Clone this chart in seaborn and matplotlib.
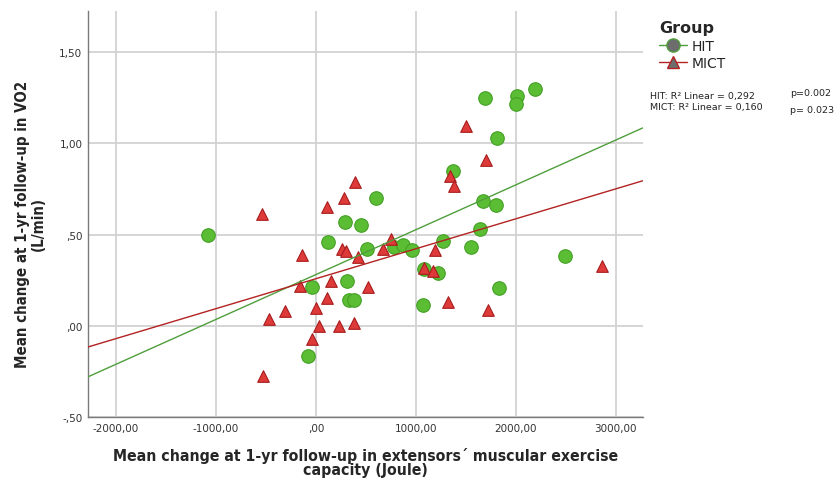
import numpy as np
import pandas as pd
import matplotlib
matplotlib.use("Agg")
import matplotlib.pyplot as plt
from matplotlib.lines import Line2D
import seaborn as sns

# Change in extensors' muscular exercise capacity (Joule) vs change in VO2 (L/min)
hit_x = [-1080, -80, -40, 120, 290, 450, 600, 310, 330, 380, 510, 780, 870, 960,
         1080, 1220, 1070, 1270, 1370, 1550, 1640, 1670, 1800, 1810, 1830, 1690,
         2010, 2000, 2190, 2490]
hit_y = [0.50, -0.165, 0.214, 0.46, 0.57, 0.555, 0.70, 0.247, 0.143, 0.143, 0.423,
         0.434, 0.445, 0.418, 0.313, 0.29, 0.115, 0.467, 0.846, 0.434, 0.533, 0.687,
         0.66, 1.027, 0.209, 1.25, 1.258, 1.214, 1.297, 0.385]

mict_x = [-540, 110, -140, -160, 150, -310, -470, 0, 110, 30, -40, -530, 390, 280,
          260, 300, 750, 670, 420, 520, 230, 380, 1190, 1080, 1170, 1320, 1720,
          1340, 1380, 1500, 1700, 2860]
mict_y = [0.615, 0.654, 0.39, 0.22, 0.247, 0.082, 0.038, 0.099, 0.154, 0.0, -0.071,
          -0.275, 0.79, 0.70, 0.423, 0.41, 0.477, 0.423, 0.379, 0.214, 0.0, 0.016,
          0.418, 0.319, 0.302, 0.132, 0.088, 0.824, 0.769, 1.093, 0.907, 0.33]

groups = ["HIT", "MICT"]
x_ticks = [-2000, -1000, 0, 1000, 2000, 3000]
x_tick_labels = ["-2000,00", "-1000,00", ",00", "1000,00", "2000,00", "3000,00"]
y_ticks = [-0.5, 0.0, 0.5, 1.0, 1.5]
y_tick_labels = ["-,50", ",00", ",50", "1,00", "1,50"]
fit_notes = ["HIT: R\u00b2 Linear = 0,292", "MICT: R\u00b2 Linear = 0,160"]
p_notes = ["p=0.002", "p= 0.023"]

df = pd.DataFrame({
    "capacity": hit_x + mict_x,
    "vo2": hit_y + mict_y,
    "Group": ["HIT"] * len(hit_x) + ["MICT"] * len(mict_x),
})

sns.set_style("white")
plt.rcParams["font.family"] = ["DejaVu Sans"]

fill = {"HIT": "#5bbd34", "MICT": "#de3a3a"}
edge = {"HIT": "#43a024", "MICT": "#a81c1c"}
line_col = {"HIT": "#4f9e3c", "MICT": "#b32222"}
markers = {"HIT": "o", "MICT": "^"}
sizes = {"HIT": 95, "MICT": 70}

fig = plt.figure(figsize=(8.38, 4.85), dpi=100)
ax = fig.add_axes([0.105, 0.138, 0.662, 0.837])
ax.set_xlim(-2280, 3270)
ax.set_ylim(-0.5, 1.725)

for g in groups:
    sub = df[df["Group"] == g]
    sns.scatterplot(data=sub, x="capacity", y="vo2", ax=ax, marker=markers[g],
                    s=sizes[g], color=fill[g], edgecolor=edge[g], linewidth=0.8,
                    zorder=3, legend=False)

for g in groups:
    sub = df[df["Group"] == g]
    sns.regplot(data=sub, x="capacity", y="vo2", ax=ax, scatter=False, ci=None,
                truncate=False, color=line_col[g], line_kws={"lw": 1.0, "zorder": 4})

ax.set_xlim(-2280, 3270)
ax.set_ylim(-0.5, 1.725)
ax.set_xticks(x_ticks)
ax.set_xticklabels(x_tick_labels)
ax.set_yticks(y_ticks)
ax.set_yticklabels(y_tick_labels)
ax.tick_params(axis="both", length=0, labelsize=7.5, labelcolor="#333333", pad=4)
ax.grid(True, color="#d2d2d2", lw=1.3, zorder=0)
ax.set_axisbelow(True)
for s in ["top", "right"]:
    ax.spines[s].set_visible(False)
for s in ["left", "bottom"]:
    ax.spines[s].set_color("#7a7a7a")
    ax.spines[s].set_linewidth(1.0)

ax.set_xlabel("Mean change at 1-yr follow-up in extensors\u00b4 muscular exercise\ncapacity (Joule)",
              fontsize=11.3, fontweight="bold", fontstretch="condensed",
              labelpad=10, linespacing=0.95)
ax.set_ylabel("Mean change at 1-yr follow-up in VO2\n(L/min)",
              fontsize=10.8, fontweight="bold", fontstretch="condensed",
              labelpad=10, linespacing=1.0)
ax.yaxis.label.set_y(0.478)

handles = [
    Line2D([0], [0], color=line_col["HIT"], lw=1.0, marker="o", markersize=9.5,
           markerfacecolor="#6d6d6d", markeredgecolor=line_col["HIT"]),
    Line2D([0], [0], color=line_col["MICT"], lw=1.0, marker="^", markersize=8.5,
           markerfacecolor="#6d6d6d", markeredgecolor=line_col["MICT"]),
]
leg = fig.legend(handles, groups, title="Group", loc="upper left",
                 bbox_to_anchor=(0.772, 0.982), frameon=False, fontsize=10,
                 title_fontproperties={"weight": "bold", "size": 11.5},
                 handlelength=2.0, handletextpad=0.3, labelspacing=0.25)
leg._legend_box.align = "left"

fig.text(0.776, 0.802, fit_notes[0], fontsize=6.8, color="#222222", va="center")
fig.text(0.776, 0.778, fit_notes[1], fontsize=6.8, color="#222222", va="center")
fig.text(0.943, 0.807, p_notes[0], fontsize=6.8, color="#222222", va="center")
fig.text(0.943, 0.772, p_notes[1], fontsize=6.8, color="#222222", va="center")

fig.savefig("out.png", dpi=100)
